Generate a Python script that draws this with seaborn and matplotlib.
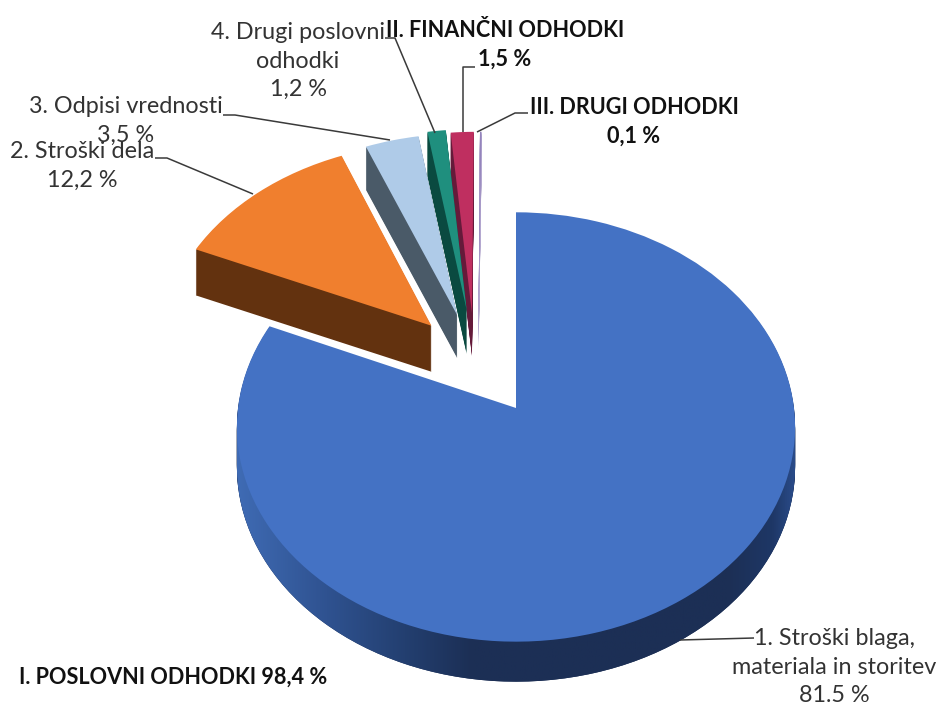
import numpy as np
import seaborn as sns
import matplotlib
matplotlib.use("Agg")
import matplotlib.pyplot as plt
from matplotlib.colors import LinearSegmentedColormap
from matplotlib.path import Path
from matplotlib.transforms import Affine2D, Transform

# shares in %, clockwise from 12 o'clock
names = ["1. Stroški blaga", "2. Stroški dela", "3. Odpisi vrednosti",
         "4. Drugi poslovni odhodki", "II. Finančni odhodki", "III. Drugi odhodki"]
shares = [81.5, 12.2, 3.5, 1.2, 1.5, 0.1]

top_colors = ["#4472C4", "#F07F2E", "#AFCBE8", "#1F8F7E", "#BF2F60", "#9484BC"]
side_colors = ["#1C2F55", "#63320F", "#4A5A68", "#0A4A40", "#651A3A", "#B4A8D0"]

# how far each slice is pulled out of the pie (pie units) and its wall height (px)
pull_x = [0.0, -0.315, -0.22, -0.185, -0.165, -0.14]
pull_y = [0.0, 0.40, 0.4535, 0.4796, 0.4645, 0.465]
depths = [40, 46, 43, 44, 43, 36]
stack_order = [5, 4, 3, 2, 1, 0]

APEX_X, APEX_Y = 515, 408
SCALE_X, SCALE_Y = 278, 213
TILT = 0.0884


class Tilt(Transform):
    # far side of the pie is smaller than the near side
    input_dims = 2
    output_dims = 2

    def transform_non_affine(self, values):
        values = np.asarray(values, dtype=float)
        w = 1 + TILT * values[:, 1]
        return values / w[:, None]


def slice_transform(i, drop):
    return (Affine2D().translate(pull_x[i], pull_y[i]) + Tilt()
            + Affine2D().scale(SCALE_X, -SCALE_Y).translate(APEX_X + 1, APEX_Y + drop))


sns.set_theme(style="white")
plt.rcParams["font.family"] = ["Lato", "DejaVu Sans"]

fig = plt.figure(figsize=(9.39, 7.06), dpi=100, facecolor="white")
ax = fig.add_axes([0, 0, 1, 1])

# walls: same pie repeated one pixel lower each time
for drop in range(max(depths), 0, -1):
    walls, _ = ax.pie(shares, startangle=90, counterclock=False, colors=side_colors,
                      wedgeprops={"linewidth": 0})
    for i, w in enumerate(walls):
        if drop > depths[i]:
            w.set_visible(False)
        w.set_transform(slice_transform(i, drop) + ax.transData)
        w.set_zorder(stack_order[i] * 10 + 1)

tops, _ = ax.pie(shares, startangle=90, counterclock=False, colors=top_colors,
                 wedgeprops={"linewidth": 0})
for i, w in enumerate(tops):
    w.set_transform(slice_transform(i, 0) + ax.transData)
    w.set_zorder(stack_order[i] * 10 + 5)

# shading of the big slice's wall
arc = slice_transform(0, 0).transform_path(tops[0].get_path()).to_polygons(closed_only=False)[0]
right = arc[np.argmax(arc[:, 0])]
left = arc[np.argmin(arc[:, 0])]
lower = arc[arc[:, 1] > right[1] - 2]
lower = lower[np.argsort(lower[:, 0])] + [0, depths[0]]
band = np.vstack([left, lower, right])
wall_cmap = LinearSegmentedColormap.from_list("wall", [
    (0.0, "#3F6BB4"), (0.16, "#2F5290"), (0.30, "#233F70"), (0.42, "#1C2F55"),
    (0.88, "#1C2F55"), (0.96, "#1E3766"), (1.0, "#2A4C8A")])
im = ax.imshow(np.linspace(0, 1, 256)[None, :], extent=(left[0], right[0], 700, 400),
               aspect="auto", cmap=wall_cmap, vmin=0, vmax=1, zorder=stack_order[0] * 10 + 2)
im.set_clip_path(Path(band), transform=ax.transData)

ax.set_aspect("auto")
ax.set_xlim(0, 939)
ax.set_ylim(706, 0)
ax.axis("off")

# leader lines
leaders = [
    ([680, 754], [640, 638]),
    ([155, 167, 253], [158, 158, 194]),
    ([223, 235, 390], [115, 115, 140]),
    ([385, 395, 435], [38, 38, 133]),
    ([475, 463, 463], [67, 67, 132]),
    ([477, 515, 528], [132, 113, 113]),
]
for xs, ys in leaders:
    ax.plot(xs, ys, color="#3A3A3A", lw=1.1, zorder=70, solid_capstyle="butt")

plain = {"ha": "center", "va": "center", "color": "#333333", "fontsize": 16.8,
         "linespacing": 1.42, "zorder": 80}
bold = dict(plain, color="#111111", fontweight="bold", fontsize=15.6, linespacing=1.45)

ax.text(298, 61, "4. Drugi poslovni\nodhodki\n1,2 %", **plain)
ax.text(126, 121, "3. Odpisi vrednosti\n3,5 %", **plain)
ax.text(82, 166, "2. Stroški dela\n12,2 %", **plain)
ax.text(834, 667, "1. Stroški blaga,\nmateriala in storitev\n81.5 %", **plain)
ax.text(505, 45, "II. FINANČNI ODHODKI\n1,5 %", **bold)
ax.text(634, 122, "III. DRUGI ODHODKI\n0,1 %", **bold)
ax.text(173, 677, "I. POSLOVNI ODHODKI 98,4 %", **bold)

fig.savefig("out.png", dpi=100, facecolor="white")
